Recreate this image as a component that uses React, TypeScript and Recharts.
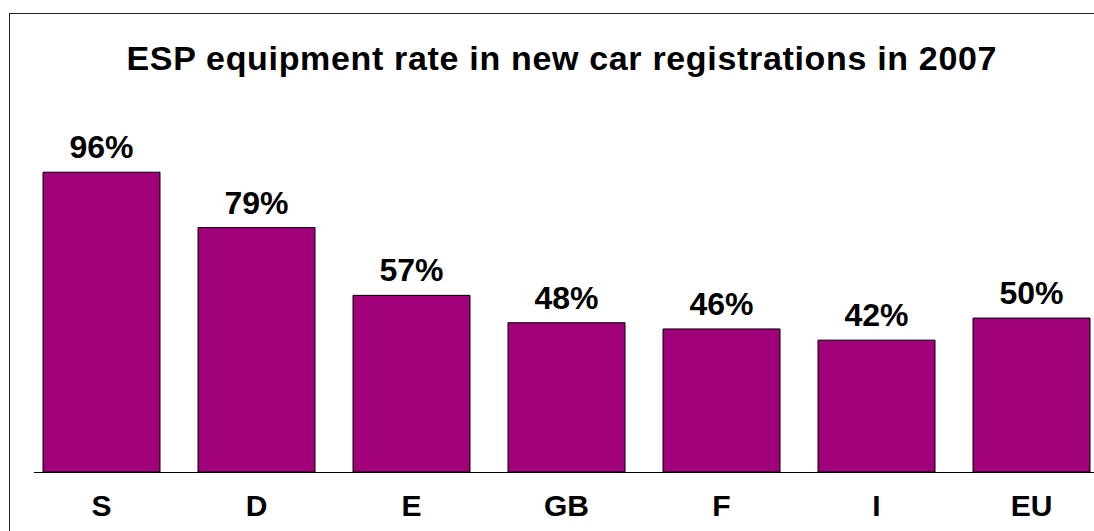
import React from "react";
import { BarChart, Bar, XAxis, YAxis, LabelList } from "recharts";

const categories = ["S", "D", "E", "GB", "F", "I", "EU"];
const values = [96.4, 78.6, 56.8, 48, 46, 42.4, 49.5];
const valueLabels = ["96%", "79%", "57%", "48%", "46%", "42%", "50%"];
const title = "ESP equipment rate in new car registrations in 2007";

const data = categories.map((c, i) => ({ cat: c, value: values[i], label: valueLabels[i] }));

const FONT = '"Liberation Sans", Arial, Helvetica, sans-serif';
const BAR = "#A0007A";

export default function App() {
  return (
    <div
      style={{
        position: "fixed",
        left: 0,
        top: 0,
        width: 1094,
        height: 531,
        overflow: "hidden",
        background: "#fff",
        fontFamily: FONT,
      }}
    >
      <div
        style={{
          position: "absolute",
          left: 9,
          top: 13,
          width: 3000,
          height: 3000,
          border: "1px solid #222",
        }}
      />
      <svg style={{ position: "absolute", left: 0, top: 0 }} width={1094} height={531}>
        <text
          x={561.5}
          y={70}
          textAnchor="middle"
          fontFamily={FONT}
          fontWeight="bold"
          fontSize={34}
          textLength={870}
          lengthAdjust="spacing"
          fill="#000"
        >
          {title}
        </text>
        <line x1={34} x2={1094} y1={472.5} y2={472.5} stroke="#000" strokeWidth={1} />
      </svg>
      <div style={{ position: "absolute", left: 0, top: 0 }}>
        <BarChart
          width={1109}
          height={531}
          data={data}
          margin={{ top: 161, left: 24, right: 0, bottom: 0 }}
        >
          <YAxis hide domain={[0, 100]} />
          <XAxis
            dataKey="cat"
            height={59}
            axisLine={false}
            tickLine={false}
            tickSize={0}
            tickMargin={23}
            interval={0}
            tick={{ fill: "#000", fontSize: 30, fontWeight: "bold", fontFamily: FONT }}
          />
          <Bar dataKey="value" fill={BAR} stroke="#000" strokeWidth={1} barSize={117} isAnimationActive={false}>
            <LabelList
              dataKey="label"
              position="top"
              offset={14}
              fill="#000"
              fontSize={32}
              fontWeight="bold"
              fontFamily={FONT}
            />
          </Bar>
        </BarChart>
      </div>
    </div>
  );
}
